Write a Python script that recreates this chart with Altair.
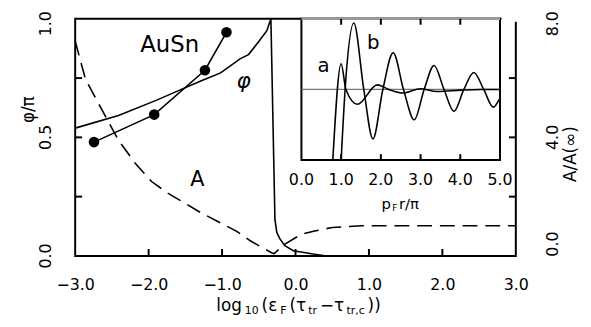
import altair as alt
import pandas as pd

# ---------------- values ----------------
# main panel, solid phase curve (left axis, phi/pi)
phi_x = [-3.0, -2.41, -1.89, -1.60, -1.29, -1.02, -0.75, -0.64, -0.50, -0.39, -0.335,
         -0.28, -0.255, -0.21, -0.145, -0.03, 0.24, 0.42, 3.0]
phi_y = [0.539, 0.592, 0.657, 0.696, 0.7375, 0.772, 0.832, 0.849, 0.904, 0.95, 1.0,
         0.154, 0.099, 0.071, 0.043, 0.022, 0.008, 0.0, 0.0]

# AuSn experimental points (left axis)
ausn_x = [-2.744, -1.924, -1.233, -0.94]
ausn_y = [0.480, 0.596, 0.783, 0.943]

# dashed amplitude curve (right axis, A/A(inf))
amp_x = [-3.0, -2.86, -2.63, -2.41, -2.18, -1.96, -1.74, -1.29, -0.80, -0.615, -0.46,
         -0.32, -0.29, -0.144, 0.08, 0.26, 0.50, 0.90, 3.0]
amp_y = [7.25, 5.96, 4.90, 3.90, 3.12, 2.51, 2.12, 1.46, 0.83, 0.51, 0.29,
         0.10, 0.08, 0.40, 0.73, 0.84, 0.96, 1.02, 1.02]

# inset curves (x = p_F r / pi, arbitrary vertical units)
a_x = [0.79, 1.0, 1.12, 1.41, 1.91, 2.2, 2.57, 2.99, 3.43, 4.02, 4.5, 5.0]
a_y = [-1.0, 0.365, 0.0, -0.21, 0.065, 0.0, -0.05, 0.01, -0.03, -0.01, 0.0, 0.0]
b_x = [1.0, 1.10, 1.32, 1.57, 1.80, 2.05, 2.31, 2.57, 2.84, 3.09, 3.34, 3.59, 3.84,
       4.09, 4.34, 4.59, 4.83, 4.98]
b_y = [-1.0, 0.0, 0.94, 0.0, -0.70, 0.0, 0.52, 0.0, -0.43, 0.0, 0.34, 0.0, -0.31,
       0.0, 0.24, 0.0, -0.25, -0.14]

# tick values
x_labels = [-3, -2, -1, 0, 1, 2, 3]
x_minor = [-2, -1, 0, 1, 2]
phi_labels_low = [0, 0.5]
phi_labels_top = [1]
phi_minor = [0.25, 0.5, 0.75]
amp_labels_mid = [4]
amp_labels_top = [8]
amp_labels_low = [0]
amp_minor = [2, 4, 6]
inset_labels = [0, 1, 2, 3, 4, 5]
inset_minor = [1, 2, 3, 4]

# ---------------- layout ----------------
W, H = 446, 240
FONT = "DejaVu Sans"
LW = 1.6
TFS = 16  # tick label font size


def sc(domain, rng=None):
    if rng is None:
        return alt.Scale(domain=domain, nice=False, zero=False)
    return alt.Scale(domain=domain, range=rng, nice=False, zero=False)


XM = sc([-3, 3])
YL = sc([0, 1])
YR = sc([0, 8])
XI = sc([0, 5], [229, 430])
YI = sc([-1, 1], [143, 0])

x_axis = alt.Axis(values=x_labels, format=".1f", title=None, domain=False, ticks=False,
                  tickSize=0, grid=False, labelFont=FONT, labelFontSize=TFS,
                  labelColor="black", labelFlush=False, labelOverlap=False, labelPadding=21)


def line_df(xs, ys):
    return pd.DataFrame({"x": xs, "y": ys, "i": list(range(len(xs)))})


layers = []

# main curves
layers.append(alt.Chart(line_df(phi_x, phi_y)).mark_line(color="black", strokeWidth=LW).encode(
    x=alt.X("x:Q", scale=XM, axis=x_axis),
    y=alt.Y("y:Q", scale=YL, axis=None),
    order=alt.Order("i:Q")))
layers.append(alt.Chart(line_df(ausn_x, ausn_y)).mark_line(color="black", strokeWidth=LW).encode(
    x=alt.X("x:Q", scale=XM, axis=None),
    y=alt.Y("y:Q", scale=YL, axis=None),
    order=alt.Order("i:Q")))
layers.append(alt.Chart(line_df(ausn_x, ausn_y)).mark_circle(color="black", size=115, opacity=1).encode(
    x=alt.X("x:Q", scale=XM, axis=None),
    y=alt.Y("y:Q", scale=YL, axis=None)))
layers.append(alt.Chart(line_df(amp_x, amp_y)).mark_line(color="black", strokeWidth=LW, strokeDash=[15, 8]).encode(
    x=alt.X("x:Q", scale=XM, axis=None),
    y=alt.Y("y:Q", scale=YR, axis=None),
    order=alt.Order("i:Q")))

# inward ticks of the main frame
layers.append(alt.Chart(pd.DataFrame({"v": x_minor})).mark_rule(color="black", strokeWidth=2).encode(
    x=alt.X("v:Q", scale=XM, axis=None), y=alt.value(H), y2=alt.value(H - 7)))
layers.append(alt.Chart(pd.DataFrame({"v": phi_minor})).mark_rule(color="black", strokeWidth=2).encode(
    y=alt.Y("v:Q", scale=YL, axis=None), x=alt.value(0), x2=alt.value(7)))
layers.append(alt.Chart(pd.DataFrame({"v": amp_minor})).mark_rule(color="black", strokeWidth=2).encode(
    y=alt.Y("v:Q", scale=YR, axis=None), x=alt.value(W - 7), x2=alt.value(W)))

# rotated tick labels of the two vertical axes
# (dx acts along the rotated text, i.e. vertically on screen; negative = downwards)
rot = dict(font=FONT, fontSize=TFS, color="black", align="center", baseline="middle", angle=270)
for vals, scale, xpos, shift in [(phi_labels_low, YL, -29, 0), (phi_labels_top, YL, -29, -5),
                                 (amp_labels_mid, YR, W + 38, 0), (amp_labels_top, YR, W + 38, -5),
                                 (amp_labels_low, YR, W + 38, 12)]:
    layers.append(alt.Chart(pd.DataFrame({"v": vals})).mark_text(dx=shift, **rot).encode(
        y=alt.Y("v:Q", scale=scale, axis=None), x=alt.value(xpos),
        text=alt.Text("v:Q", format=".1f")))

# annotations in the main panel
for tx, ty, t, fs, style in [(-1.713, 0.89, "AuSn", 23, "normal"),
                             (-0.706, 0.7375, "φ", 22, "italic"),
                             (-1.338, 0.319, "A", 21, "normal")]:
    layers.append(alt.Chart(pd.DataFrame({"x": [tx], "y": [ty], "t": [t]})).mark_text(
        font=FONT, fontSize=fs, fontStyle=style, color="black", align="center", baseline="middle").encode(
        x=alt.X("x:Q", scale=XM, axis=None), y=alt.Y("y:Q", scale=YL, axis=None), text="t:N"))

# inset box
layers.append(alt.Chart(pd.DataFrame({"x0": [0], "x1": [5], "y0": [-1], "y1": [1]})).mark_rect(
    fill="white", stroke="black", strokeWidth=2).encode(
    x=alt.X("x0:Q", scale=XI, axis=None), x2="x1:Q",
    y=alt.Y("y0:Q", scale=YI, axis=None), y2="y1:Q"))
layers.append(alt.Chart(pd.DataFrame({"x0": [0], "x1": [5], "y": [1]})).mark_rule(
    color="#9a9a9a", strokeWidth=2.4).encode(
    x=alt.X("x0:Q", scale=XI, axis=None), x2="x1:Q", y=alt.Y("y:Q", scale=YI, axis=None)))
# the reference frame is open between the inset and the right edge at the top
layers.append(alt.Chart(pd.DataFrame({"k": [0]})).mark_rect(fill="white").encode(
    x=alt.value(431.5), x2=alt.value(448), y=alt.value(-2), y2=alt.value(3)))
layers.append(alt.Chart(pd.DataFrame({"x0": [0], "x1": [5], "y": [0]})).mark_rule(
    color="#777777", strokeWidth=1.2).encode(
    x=alt.X("x0:Q", scale=XI, axis=None), x2="x1:Q", y=alt.Y("y:Q", scale=YI, axis=None)))
for xs, ys in [(a_x, a_y), (b_x, b_y)]:
    layers.append(alt.Chart(line_df(xs, ys)).mark_line(
        color="black", strokeWidth=LW, interpolate="monotone").encode(
        x=alt.X("x:Q", scale=XI, axis=None), y=alt.Y("y:Q", scale=YI, axis=None),
        order=alt.Order("i:Q")))
layers.append(alt.Chart(pd.DataFrame({"v": inset_minor})).mark_rule(color="black", strokeWidth=2).encode(
    x=alt.X("v:Q", scale=XI, axis=None), y=alt.value(143), y2=alt.value(137)))
layers.append(alt.Chart(pd.DataFrame({"v": inset_minor})).mark_rule(color="black", strokeWidth=2).encode(
    x=alt.X("v:Q", scale=XI, axis=None), y=alt.value(0), y2=alt.value(6)))
layers.append(alt.Chart(pd.DataFrame({"v": inset_labels})).mark_text(
    font=FONT, fontSize=TFS, color="black", align="center", baseline="middle").encode(
    x=alt.X("v:Q", scale=XI, axis=None), y=alt.value(163), text=alt.Text("v:Q", format=".1f")))
for tx, ty, t in [(0.56, 0.33, "a"), (1.81, 0.66, "b")]:
    layers.append(alt.Chart(pd.DataFrame({"x": [tx], "y": [ty], "t": [t]})).mark_text(
        font=FONT, fontSize=20, color="black", align="center", baseline="middle").encode(
        x=alt.X("x:Q", scale=XI, axis=None), y=alt.Y("y:Q", scale=YI, axis=None), text="t:N"))

# titles built from segments (for subscripts)
EM = {"l": .278, "o": .612, "g": .635, "1": .636, "0": .636, "(": .390, ")": .390,
      "ε": .54, "F": .575, "τ": .56, "t": .392, "r": .411, "−": .838, ",": .318,
      "c": .55, "p": .635, "/": .337, "π": .603}


def segments(parts, cx, base, gap):
    widths = [sum(EM.get(ch, .6) for ch in s) * fs for s, fs, _ in parts]
    total = sum(widths) + gap * (len(parts) - 1)
    x = cx - total / 2
    out = []
    for (s, fs, dy), w in zip(parts, widths):
        out.append(alt.Chart(pd.DataFrame({"t": [s]})).mark_text(
            font=FONT, fontSize=fs, color="black", align="left", baseline="alphabetic").encode(
            x=alt.value(x), y=alt.value(base + dy), text="t:N"))
        x += w + gap
    return out


layers += segments([("log", 17, 0), ("10", 11, 3), ("(ε", 17, 0), ("F", 11, 3), ("(τ", 17, 0),
                    ("tr", 11, 3), ("−τ", 17, 0), ("tr,c", 11, 3), ("))", 17, 0)],
                   cx=226, base=296, gap=3)
layers += segments([("p", 15, 0), ("F", 9, 3), ("r/π", 15, 0)], cx=329, base=192, gap=1.5)

# vertical axis titles
for tx, ty, t, fs in [(-47, 92, "φ/π", 17), (502, 137, "A/A(∞)", 17)]:
    layers.append(alt.Chart(pd.DataFrame({"t": [t]})).mark_text(
        font=FONT, fontSize=fs, color="black", align="center", baseline="middle", angle=270).encode(
        x=alt.value(tx), y=alt.value(ty), text="t:N"))

chart = alt.layer(*layers).resolve_scale(x="independent", y="independent").properties(
    width=W, height=H,
    autosize=alt.AutoSizeParams(type="none"),
    padding={"left": 68, "top": 9, "right": 68, "bottom": 70},
).configure(font=FONT).configure_view(stroke="black", strokeWidth=2)

chart.save("out.html", embed_options={"renderer": "svg", "actions": False})
